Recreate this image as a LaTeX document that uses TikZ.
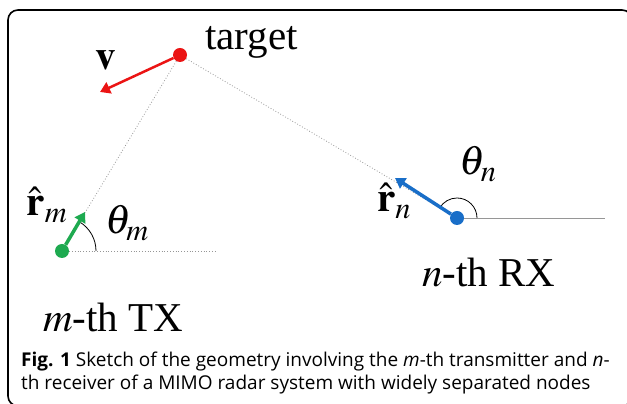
\documentclass[tikz,border=0pt]{standalone}
\usepackage{mathptmx}
\usepackage{fontspec}
\setmainfont{Liberation Serif}
\newfontfamily\capfont{Open Sans}
\definecolor{tgtred}{RGB}{235,20,20}
\definecolor{txgreen}{RGB}{30,170,80}
\definecolor{rxblue}{RGB}{25,110,200}
\definecolor{sightgray}{RGB}{150,150,150}
\usetikzlibrary{arrows.meta}

\begin{document}
\begin{tikzpicture}[x=1pt,y=1pt,
    dot/.style={circle,inner sep=0pt,minimum size=14pt},
    sight/.style={draw=sightgray,line width=0.8pt,dotted},
    unitvec/.style={line width=3.5pt,-{Triangle[length=10pt,width=12pt]}},
    biglabel/.style={font=\fontsize{41}{44}\selectfont,inner sep=0pt}]
  \useasboundingbox (0,0) rectangle (627,404);
  % Frame
  \draw[line width=1.6pt,rounded corners=10pt] (8,-2) rectangle (632,394);
  % Target, transmitter and receiver
  \node[dot,fill=tgtred] at (180,349) (target) {};
  \node[dot,fill=txgreen] at (62,153) (tx) {};
  \node[dot,fill=rxblue] at (457,186) (rx) {};
  \coordinate (vtip) at (100,312);
  \coordinate (rmtip) at (85,192);
  \coordinate (rntip) at (395,226);
  \coordinate (txref) at (215,153);
  \coordinate (rxref) at (605,186);
  % Lines of sight
  \draw[sight] (target) -- (tx);
  \draw[sight] (target) -- (rx);
  \draw[sight] (tx) -- (txref);
  \draw[draw=sightgray,line width=0.8pt] (rx) -- (rxref);
  % Angles
  \draw[line width=0.8pt] (tx.center) ++(34,0) arc[start angle=0,end angle=59,radius=34];
  \draw[line width=0.8pt] (rx.center) ++(20,0) arc[start angle=0,end angle=150,radius=20];
  % Velocity and unit vectors
  \draw[unitvec,tgtred,line width=2.5pt] (target) -- (vtip);
  \draw[unitvec,txgreen] (tx) -- (rmtip);
  \draw[unitvec,rxblue] (rx) -- (rntip);
  % Labels
  \node[biglabel,anchor=base west] at (205,354) (tgtlabel) {target};
  \node[biglabel] at (106,344) (vlabel) {$\mathbf{v}$};
  \node[biglabel] at (47,199) (rmlabel) {$\hat{\mathbf{r}}_m$};
  \node[biglabel] at (127,181) (thmlabel) {$\theta_m$};
  \node[biglabel] at (394,203) (rnlabel) {$\hat{\mathbf{r}}_n$};
  \node[biglabel] at (478,240) (thnlabel) {$\theta_n$};
  \node[biglabel,anchor=base west] at (43,72) (txlabel) {$m$-th TX};
  \node[biglabel,anchor=base west] at (422,117) (rxlabel) {$n$-th RX};
  % Caption
  \node[font=\capfont\fontsize{19}{23.5}\selectfont,anchor=base west,inner sep=0pt,
        align=left] at (21,14) (caption) {%
    \textbf{Fig. 1} Sketch of the geometry involving the \textit{m}-th transmitter and \textit{n}-\\
    th receiver of a MIMO radar system with widely separated nodes};
\end{tikzpicture}
\end{document}
